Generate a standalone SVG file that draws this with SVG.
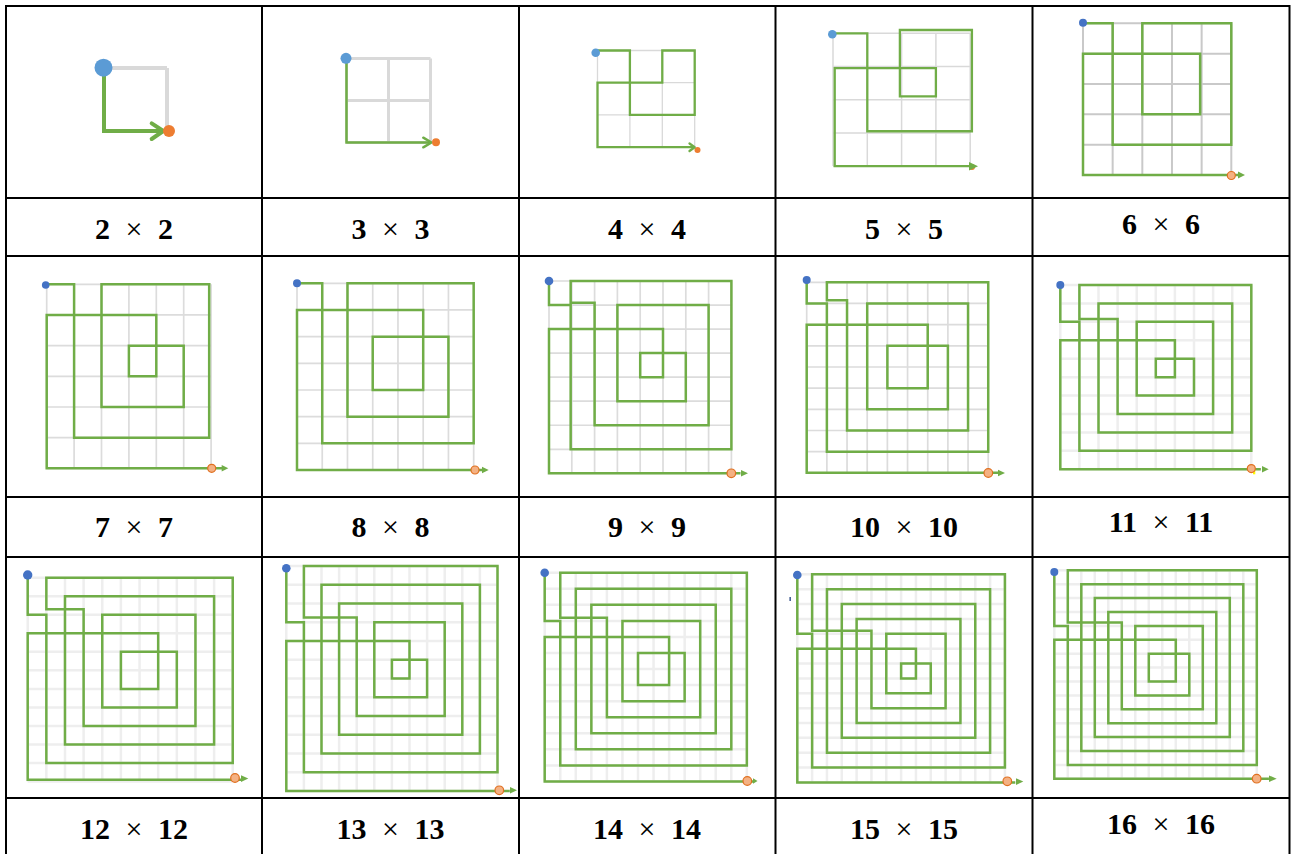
<svg xmlns="http://www.w3.org/2000/svg" width="1293" height="854" viewBox="0 0 1293 854">
<style>
.sp{fill:none;stroke:#70ad47;stroke-width:2.5;vector-effect:non-scaling-stroke;stroke-linejoin:miter}
.gA{fill:none;stroke:#d9d9d9;vector-effect:non-scaling-stroke}
.gB{fill:none;stroke:#dcdcdc;stroke-width:1.7;vector-effect:non-scaling-stroke}
.gC{fill:none;stroke:#eeeeee;stroke-width:2.5;vector-effect:non-scaling-stroke}
.ah{fill:#70ad47;stroke:none}
.ch{fill:none;stroke:#70ad47;stroke-linecap:round;stroke-linejoin:round}
.st1{fill:#5b9bd5}
.st2{fill:#4472c4}
.en1{fill:#ed7d31}
.en2{fill:#f4b183;stroke:#e07020;stroke-width:1.2}
.lbl{font-family:"Liberation Serif",serif;font-weight:bold;font-size:30px;text-anchor:middle;word-spacing:8px;fill:#000}
.tl{stroke:#000;stroke-width:2;fill:none}
</style>
<rect width="1293" height="854" fill="#fff"/>

<g id="n2">
<g transform="translate(104,68) scale(63,63)">
<path class="gA" style="stroke-width:4" d="M0,0v1m1,-1v1M0,0h1m-1,1h1"/>
<path class="sp" style="stroke-width:4" d="M0,0V1H0.94"/>
</g>
<polyline class="ch" style="stroke-width:4" points="151.7,123.3 163.3,131 151.7,139"/>
<circle class="st1" cx="103.5" cy="67.7" r="9"/>
<circle class="en1" cx="169" cy="131" r="6"/>
</g>

<g id="n3">
<g transform="translate(346.5,58.5) scale(42,42)">
<path class="gA" style="stroke-width:3" d="M0,0v2m1,-2v2m1,-2v2M0,0h2m-2,1h2m-2,1h2"/>
<path class="sp" d="M0,0V2H2"/>
</g>
<polyline class="ch" style="stroke-width:2.5" points="423.3,137.7 431.5,142.5 423.3,147.3"/>
<circle class="st1" cx="346" cy="58.3" r="5.5"/>
<circle class="en1" cx="436" cy="142.3" r="4"/>
</g>

<g id="n4">
<g transform="translate(597.5,50.5) scale(32.4,32.2)">
<path class="gA" style="stroke-width:1.3" d="M0,0v3m1,-3v3m1,-3v3m1,-3v3M0,0h3m-3,1h3m-3,1h3m-3,1h3"/>
<path class="sp" style="stroke-width:2.3" d="M0,0H1V2H3V0H2V1H0V3H2.95"/>
</g>
<circle class="en1" cx="697.5" cy="150" r="3"/>
<polyline class="ch" style="stroke-width:2.3" points="689.5,143.5 694.7,147.3 689.5,151"/>
<circle class="st1" cx="595.7" cy="52.7" r="4.3"/>
</g>

<g id="n5">
<g transform="translate(833,33.3) scale(34.3,33.2)">
<path class="gA" style="stroke-width:1.5" d="M0,0v4m1,-4v4m1,-4v4m1,-4v4m1,-4v4M0,0h4m-4,1h4m-4,1h4m-4,1h4m-4,1h4"/>
<path class="sp" style="stroke-width:2.3" d="M0,0H1V2.95H4.05V-0.1H1.95V1.9H3V1.05H0.05V4H4"/>
</g>
<circle class="en1" cx="972" cy="167" r="3"/>
<polygon class="ah" points="969,162 978,166.2 969,170.4"/>
<circle class="st1" cx="832.3" cy="34.3" r="4.3"/>
</g>

<g id="n6">
<g transform="translate(1083,23.3) scale(29.66,30.34)">
<path class="gA" style="stroke-width:2;stroke:#c9c9c9" d="M0,0v5m1,-5v5m1,-5v5m1,-5v5m1,-5v5m1,-5v5M0,0h5m-5,1h5m-5,1h5m-5,1h5m-5,1h5m-5,1h5"/>
<path class="sp" d="M0,0H1V4H5V0H2V3H3.95V1H0V5H5.3"/>
</g>
<polygon class="ah" points="1238,171.5 1245,175 1238,178.5"/>
<circle class="st2" cx="1083" cy="22.7" r="4"/>
<circle class="en2" cx="1231.3" cy="175.5" r="4"/>
</g>

<g id="n7">
<g transform="translate(46.7,284.3) scale(27.4,30.67)">
<path class="gB" d="M0,0v6m1,-6v6m1,-6v6m1,-6v6m1,-6v6m1,-6v6m1,-6v6M0,0h6m-6,1h6m-6,1h6m-6,1h6m-6,1h6m-6,1h6m-6,1h6"/>
<path class="sp" d="M0,0H1V5H5.93V0H2V4H5V2H3V3H4V1H0V6H6.4"/>
</g>
<polygon class="ah" points="221.7,465 228.3,468.3 221.7,471.6"/>
<circle class="st2" cx="45.7" cy="285" r="3.8"/>
<circle class="en2" cx="211.7" cy="468.3" r="4"/>
</g>

<g id="n8">
<g transform="translate(297,283.3) scale(25.24,26.67)">
<path class="gB" d="M0,0v7m1,-7v7m1,-7v7m1,-7v7m1,-7v7m1,-7v7m1,-7v7m1,-7v7M0,0h7m-7,1h7m-7,1h7m-7,1h7m-7,1h7m-7,1h7m-7,1h7m-7,1h7"/>
<path class="sp" d="M0,0H1V6H7V0H2V5H6V2H3V4H5V1H0V7H7.4"/>
</g>
<polygon class="ah" points="482,466.7 488.7,470 482,473.3"/>
<circle class="st2" cx="297" cy="283.3" r="4"/>
<circle class="en2" cx="475" cy="470" r="4"/>
</g>

<g id="n9">
<g transform="translate(549,281) scale(22.8,24.04)">
<path class="gB" d="M0,0v8m1,-8v8m1,-8v8m1,-8v8m1,-8v8m1,-8v8m1,-8v8m1,-8v8m1,-8v8M0,0h8m-8,1h8m-8,1h8m-8,1h8m-8,1h8m-8,1h8m-8,1h8m-8,1h8m-8,1h8"/>
<path class="sp" d="M0,0V1H0.95V7H8V0H0.95V0.9H2V6H7V1H3V5H6V3H4V4H5V2H0V8H8.4"/>
</g>
<polygon class="ah" points="741,470 748,473.3 741,476.6"/>
<circle class="st2" cx="549" cy="281" r="4.3"/>
<circle class="en2" cx="731.3" cy="473.3" r="4.3"/>
</g>

<g id="n10">
<g transform="translate(806.7,282.3) scale(20.17,21.17)">
<path class="gB" d="M0,0v9m1,-9v9m1,-9v9m1,-9v9m1,-9v9m1,-9v9m1,-9v9m1,-9v9m1,-9v9m1,-9v9M0,0h9m-9,1h9m-9,1h9m-9,1h9m-9,1h9m-9,1h9m-9,1h9m-9,1h9m-9,1h9m-9,1h9"/>
<path class="sp" d="M0,-0.1V1H1V8H9V0H1V0.85H2V7H8V1H3V6H7V3H4V5H6V2H0V9H9.5"/>
</g>
<polygon class="ah" points="998,469.7 1005,473 998,476.3"/>
<circle class="st2" cx="806.7" cy="280" r="4"/>
<circle class="en2" cx="988.3" cy="473" r="4.3"/>
</g>

<g id="n11">
<g transform="translate(1060.3,285) scale(19.1,18.43)">
<path class="gC" d="M0,0v10m1,-10v10m1,-10v10m1,-10v10m1,-10v10m1,-10v10m1,-10v10m1,-10v10m1,-10v10m1,-10v10m1,-10v10M0,0h10m-10,1h10m-10,1h10m-10,1h10m-10,1h10m-10,1h10m-10,1h10m-10,1h10m-10,1h10m-10,1h10m-10,1h10"/>
<path class="sp" d="M0,0V2H1V9H10V0H1V1.85H2V1H9V8H2V1.85H3V7H8V2H4V6H7V4H5V5H6V3H0V10H10.5"/>
</g>
<polygon class="ah" points="1262,466 1268.7,469.3 1262,472.6"/>
<rect x="1253" y="470" width="2.3" height="4.3" fill="#ffff00"/>
<circle class="st2" cx="1060.3" cy="285" r="4"/>
<circle class="en2" cx="1251.3" cy="468.6" r="4"/>
</g>

<g id="n12">
<g transform="translate(27.7,577.7) scale(18.64,18.53)">
<path class="gC" d="M0,0v11m1,-11v11m1,-11v11m1,-11v11m1,-11v11m1,-11v11m1,-11v11m1,-11v11m1,-11v11m1,-11v11m1,-11v11m1,-11v11M0,0h11m-11,1h11m-11,1h11m-11,1h11m-11,1h11m-11,1h11m-11,1h11m-11,1h11m-11,1h11m-11,1h11m-11,1h11m-11,1h11"/>
<path class="sp" d="M0,-0.15V2H1V10H11V0H1V1.7H2V1H10V9H2V1.7H3V8H9V2H4V7H8V4H5V6H7V3H0V10.9H11.45"/>
</g>
<polygon class="ah" points="241,775.3 248.3,778.6 241,781.9"/>
<circle class="st2" cx="27.7" cy="575" r="4.7"/>
<circle class="en2" cx="235" cy="778" r="4.3"/>
</g>

<g id="n13">
<g transform="translate(286.3,566) scale(17.6,18.75)">
<path class="gC" d="M0,0v12m1,-12v12m1,-12v12m1,-12v12m1,-12v12m1,-12v12m1,-12v12m1,-12v12m1,-12v12m1,-12v12m1,-12v12m1,-12v12m1,-12v12M0,0h12m-12,1h12m-12,1h12m-12,1h12m-12,1h12m-12,1h12m-12,1h12m-12,1h12m-12,1h12m-12,1h12m-12,1h12m-12,1h12m-12,1h12"/>
<path class="sp" d="M0,0.1V3H1V11H12V0H1V2.75H2V1H11V10H2V2.75H3V2H10V9H3V2.75H4V8H9V3H5V7H8V5H6V6H7V4H0V12H12.7"/>
</g>
<polygon class="ah" points="510,787 517,790.3 510,793.6"/>
<circle class="st2" cx="286.3" cy="568.3" r="4.3"/>
<circle class="en2" cx="499.3" cy="790.3" r="4.3"/>
</g>

<g id="n14">
<g transform="translate(544.7,572.7) scale(15.55,16.06)">
<path class="gC" d="M0,0v13m1,-13v13m1,-13v13m1,-13v13m1,-13v13m1,-13v13m1,-13v13m1,-13v13m1,-13v13m1,-13v13m1,-13v13m1,-13v13m1,-13v13m1,-13v13M0,0h13m-13,1h13m-13,1h13m-13,1h13m-13,1h13m-13,1h13m-13,1h13m-13,1h13m-13,1h13m-13,1h13m-13,1h13m-13,1h13m-13,1h13m-13,1h13"/>
<path class="sp" d="M0,0V3H1V12H13V0H1V2.8H2V1H12V11H2V2.8H3V2H11V10H3V2.8H4V9H10V3H5V8H9V5H6V7H8V4H0V13H13.4"/>
</g>
<polygon class="ah" points="753,778.3 757.5,781 753,783.7"/>
<circle class="st2" cx="544.7" cy="572.7" r="4.3"/>
<circle class="en2" cx="747.3" cy="781" r="4.3"/>
</g>

<g id="n15">
<g transform="translate(797.3,574.3) scale(14.83,14.87)">
<path class="gC" d="M0,0v14m1,-14v14m1,-14v14m1,-14v14m1,-14v14m1,-14v14m1,-14v14m1,-14v14m1,-14v14m1,-14v14m1,-14v14m1,-14v14m1,-14v14m1,-14v14m1,-14v14M0,0h14m-14,1h14m-14,1h14m-14,1h14m-14,1h14m-14,1h14m-14,1h14m-14,1h14m-14,1h14m-14,1h14m-14,1h14m-14,1h14m-14,1h14m-14,1h14m-14,1h14"/>
<path class="sp" d="M0,0V4H1V13H14V0H1V3.8H2V1H13V12H2V3.8H3V2H12V11H3V3.8H4V3H11V10H4V3.8H5V9H10V4H6V8H9V6H7V7H8V5H0V14H14.7"/>
</g>
<polygon class="ah" points="1016,778.3 1023.3,781.6 1016,784.9"/>
<rect x="789.5" y="597" width="1.3" height="4" fill="#1f3f7f"/>
<circle class="st2" cx="797.3" cy="575" r="4.3"/>
<circle class="en2" cx="1007.3" cy="781.3" r="4.3"/>
</g>

<g id="n16">
<g transform="translate(1054.3,570.3) scale(13.5,13.9)">
<path class="gC" d="M0,0v15m1,-15v15m1,-15v15m1,-15v15m1,-15v15m1,-15v15m1,-15v15m1,-15v15m1,-15v15m1,-15v15m1,-15v15m1,-15v15m1,-15v15m1,-15v15m1,-15v15m1,-15v15M0,0h15m-15,1h15m-15,1h15m-15,1h15m-15,1h15m-15,1h15m-15,1h15m-15,1h15m-15,1h15m-15,1h15m-15,1h15m-15,1h15m-15,1h15m-15,1h15m-15,1h15m-15,1h15"/>
<path class="sp" d="M0,0V4H1V14H15V0H1V3.75H2V1H14V13H2V3.75H3V2H13V12H3V3.75H4V3H12V11H4V3.75H5V10H11V4H6V9H10V6H7V8H9V5H0V15H15.9"/>
</g>
<polygon class="ah" points="1269,775.4 1276.7,778.7 1269,782"/>
<circle class="st2" cx="1054.3" cy="572" r="4"/>
<circle class="en2" cx="1256.7" cy="778.7" r="4.3"/>
</g>

<g id="table">
<path class="tl" d="M5,6H1290.5M5,198H1290.5M5,256H1290.5M5,497H1290.5M5,557H1290.5M5,798H1290.5M6,5V854M262,5V854M519,5V854M775.5,5V854M1032.5,5V854M1289.5,5V854"/>
</g>

<g id="labels">
<text class="lbl" x="134" y="239">2 <tspan font-weight="normal">×</tspan> 2</text>
<text class="lbl" x="390.5" y="239">3 <tspan font-weight="normal">×</tspan> 3</text>
<text class="lbl" x="647" y="239">4 <tspan font-weight="normal">×</tspan> 4</text>
<text class="lbl" x="904" y="239">5 <tspan font-weight="normal">×</tspan> 5</text>
<text class="lbl" x="1161" y="234">6 <tspan font-weight="normal">×</tspan> 6</text>
<text class="lbl" x="134" y="537">7 <tspan font-weight="normal">×</tspan> 7</text>
<text class="lbl" x="390.5" y="537">8 <tspan font-weight="normal">×</tspan> 8</text>
<text class="lbl" x="647" y="537">9 <tspan font-weight="normal">×</tspan> 9</text>
<text class="lbl" x="904" y="537">10 <tspan font-weight="normal">×</tspan> 10</text>
<text class="lbl" x="1161" y="532">11 <tspan font-weight="normal">×</tspan> 11</text>
<text class="lbl" x="134" y="839">12 <tspan font-weight="normal">×</tspan> 12</text>
<text class="lbl" x="390.5" y="839">13 <tspan font-weight="normal">×</tspan> 13</text>
<text class="lbl" x="647" y="839">14 <tspan font-weight="normal">×</tspan> 14</text>
<text class="lbl" x="904" y="839">15 <tspan font-weight="normal">×</tspan> 15</text>
<text class="lbl" x="1161" y="834">16 <tspan font-weight="normal">×</tspan> 16</text>
</g>
</svg>
